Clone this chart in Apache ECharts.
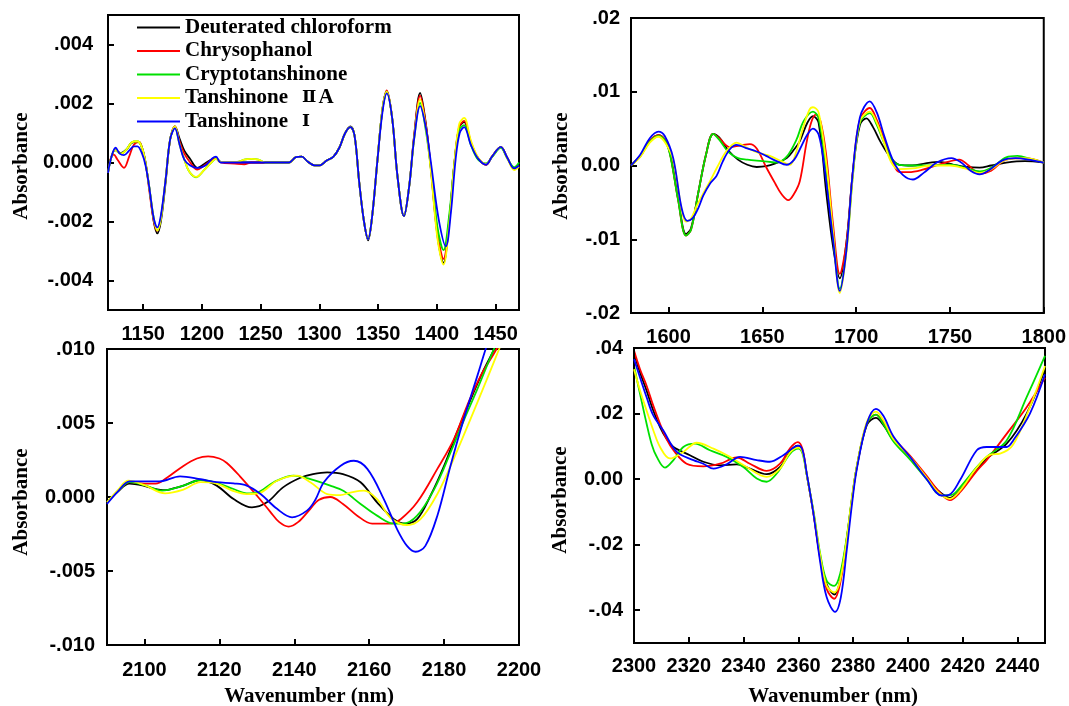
<!DOCTYPE html>
<html>
<head>
<meta charset="utf-8">
<script src="https://cdn.jsdelivr.net/npm/echarts@6/dist/echarts.min.js"></script>
<style>
  html, body { margin: 0; padding: 0; background: #ffffff; }
  #chart { width: 1069px; height: 706px; }
</style>
</head>
<body>
<div id="chart"></div>
<script>
// Sample names and line colours (legend order)
const seriesNames = ['Deuterated chloroform', 'Chrysophanol', 'Cryptotanshinone', 'Tanshinone \u2161A', 'Tanshinone \u2160'];
const seriesColors = ['#000000', '#ff0000', '#00e000', '#ffff00', '#0000ff'];

// ---- Panel 1: 1120-1470 nm, [wavenumber, absorbance] ----
const p1Deuterated = [[1120,-0.00035],[1123,0.0002],[1126,0.00042],[1131,0.00032],[1136,0.00045],[1140,0.00066],[1145,0.0007],[1148,0.0006],[1151,0.0002],[1155,-0.0008],[1159,-0.002],[1162,-0.0024],[1165,-0.002],[1169,-0.0007],[1173,0.0008],[1177,0.00122],[1181,0.0008],[1185,0.0004],[1190,0.00012],[1196,-0.00018],[1202,-0.00005],[1208,0.0001],[1212,0.00015],[1216,0.00002],[1230,0],[1245,0],[1260,0],[1274,0],[1280,0.00018],[1285,0.0002],[1290,0.00003],[1296,-0.0001],[1300,-0.0001],[1306,0.00006],[1312,0.0002],[1317,0.0005],[1322,0.001],[1326.5,0.00122],[1330,0.0009],[1334,-0.0007],[1338,-0.002],[1341.5,-0.00264],[1345,-0.0018],[1349.5,0.0001],[1353.7,0.0018],[1357.4,0.00242],[1362,0.0015],[1366.5,-0.00046],[1372,-0.00182],[1376.5,-0.0008],[1380.7,0.0009],[1385.8,0.00236],[1390.6,0.00134],[1395,-0.00024],[1400.6,-0.0025],[1405.7,-0.0034],[1410.5,-0.002],[1414.8,-0.0001],[1419,0.0012],[1423.3,0.00137],[1429,0.00067],[1435,0.00016],[1442,-0.00007],[1447,0.0002],[1454.5,0.00053],[1460,0.00016],[1466,-0.0002],[1470,-0.0001]];
const p1Chrysophanol = [[1120,-0.00035],[1122,0.0001],[1125,0.00027],[1128,0.0001],[1133.6,-0.00018],[1138,0.0002],[1142,0.0006],[1146.5,0.0007],[1149,0.0005],[1152,0],[1155,-0.0009],[1159,-0.002],[1162,-0.00232],[1165,-0.0019],[1169,-0.0006],[1173,0.0008],[1177,0.00122],[1181,0.0007],[1185,0.0003],[1190,0],[1196,-0.00024],[1202,-0.0001],[1208,0.00008],[1212,0.00012],[1216,0],[1228,-0.00004],[1236,-0.00006],[1242,0],[1260,0],[1274,0],[1280,0.00018],[1285,0.0002],[1290,0.00003],[1296,-0.0001],[1300,-0.0001],[1306,0.00006],[1312,0.0002],[1317,0.0005],[1322,0.001],[1326.5,0.0012],[1330,0.0009],[1334,-0.0007],[1338,-0.002],[1341.5,-0.0026],[1345,-0.0018],[1349.5,0.0001],[1353.7,0.0018],[1357.4,0.00244],[1362,0.0015],[1366.5,-0.00046],[1372,-0.00182],[1376.5,-0.0008],[1380.7,0.0009],[1385.8,0.00227],[1390.6,0.0013],[1395,-0.0002],[1400.6,-0.0024],[1405.7,-0.00327],[1410.5,-0.002],[1414.8,-0.0001],[1419,0.0012],[1423.3,0.00141],[1429,0.0007],[1435,0.00016],[1442,-0.00008],[1447,0.0002],[1454.5,0.00053],[1460,0.00016],[1466,-0.0002],[1470,-0.0001]];
const p1Cryptotanshinone = [[1120,-0.00035],[1123,0.0002],[1126,0.00042],[1131,0.0003],[1136,0.00045],[1140,0.00068],[1145,0.00072],[1148,0.0006],[1151,0.0002],[1155,-0.0008],[1159,-0.0019],[1162,-0.0023],[1165,-0.0019],[1169,-0.0006],[1173,0.0008],[1177,0.0012],[1181,0.0006],[1185,0.0001],[1189,-0.0003],[1195,-0.0005],[1202,-0.00025],[1208,0],[1212,0.00012],[1216,0.00002],[1230,0.00002],[1236,0.0001],[1242,0.00012],[1248,0.0001],[1254,0],[1274,0],[1280,0.00018],[1285,0.0002],[1290,0.00003],[1296,-0.0001],[1300,-0.0001],[1306,0.00006],[1312,0.0002],[1317,0.0005],[1322,0.001],[1326.5,0.0012],[1330,0.0009],[1334,-0.0007],[1338,-0.002],[1341.5,-0.0026],[1345,-0.0018],[1349.5,0.0001],[1353.7,0.0018],[1357.4,0.0024],[1362,0.0015],[1366.5,-0.00046],[1372,-0.00182],[1376.5,-0.0008],[1380.7,0.0008],[1385.8,0.00202],[1390.6,0.0011],[1395,-0.0002],[1400.6,-0.0022],[1405.7,-0.00297],[1410.5,-0.0018],[1414.8,-0.0001],[1419,0.0011],[1423.3,0.00127],[1429,0.0006],[1435,0.0001],[1442,-0.00003],[1447,0.00018],[1454.5,0.0005],[1460,0.00014],[1466,-0.00016],[1470,0]];
const p1TanshinoneIIA = [[1120,-0.00035],[1123,0.0002],[1126,0.00042],[1131,0.0003],[1136,0.00045],[1140,0.00068],[1145,0.00072],[1148,0.0006],[1151,0.0002],[1155,-0.0008],[1159,-0.0019],[1162,-0.0023],[1165,-0.0019],[1169,-0.0006],[1173,0.0008],[1177,0.00122],[1181,0.0006],[1185,0.0001],[1189,-0.0003],[1195,-0.00049],[1202,-0.00025],[1208,0],[1212,0.00012],[1216,0.00002],[1230,0.00002],[1236,0.0001],[1242,0.00012],[1248,0.0001],[1254,0],[1274,0],[1280,0.00018],[1285,0.0002],[1290,0.00003],[1296,-0.0001],[1300,-0.0001],[1306,0.00006],[1312,0.0002],[1317,0.0005],[1322,0.001],[1326.5,0.0012],[1330,0.0009],[1334,-0.0007],[1338,-0.002],[1341.5,-0.0026],[1345,-0.0018],[1349.5,0.0001],[1353.7,0.0018],[1357.4,0.0024],[1362,0.0015],[1366.5,-0.00046],[1372,-0.00182],[1376.5,-0.0008],[1380.7,0.0008],[1385.8,0.00214],[1390.6,0.0012],[1395,-0.0003],[1400.6,-0.0026],[1405.7,-0.00346],[1410.5,-0.0021],[1414.8,-0.0001],[1419,0.0013],[1423.3,0.00151],[1429,0.00075],[1435,0.00018],[1442,-0.00005],[1447,0.0002],[1454.5,0.00053],[1460,0.00014],[1466,-0.00026],[1470,-0.00015]];
const p1TanshinoneI = [[1120,-0.00035],[1123,0.0002],[1126.5,0.0005],[1130,0.0003],[1133.6,0.00025],[1138,0.0004],[1142,0.00055],[1145,0.00055],[1149,0.0003],[1152,-0.0001],[1155,-0.0008],[1159,-0.0019],[1162,-0.0022],[1165,-0.0018],[1169,-0.0006],[1173,0.0008],[1177,0.00116],[1181,0.0006],[1185,0.0001],[1190,-0.0001],[1196,-0.00018],[1203,-0.0001],[1209,0.00015],[1212,0.0002],[1216,0],[1274,0],[1280,0.00018],[1285,0.0002],[1290,0.00003],[1296,-0.0001],[1300,-0.0001],[1306,0.00006],[1312,0.0002],[1317,0.0005],[1322,0.001],[1326.5,0.0012],[1330,0.0009],[1334,-0.0007],[1338,-0.002],[1341.5,-0.0026],[1345,-0.0018],[1349.5,0.0001],[1353.7,0.0017],[1357.4,0.00234],[1362,0.0015],[1366.5,-0.00046],[1372,-0.00182],[1376.5,-0.0008],[1380.7,0.0008],[1385.8,0.00191],[1390.6,0.0012],[1395,0],[1401.5,-0.0019],[1407.7,-0.00284],[1412,-0.0017],[1416,0.0001],[1419.5,0.001],[1423.3,0.0012],[1429,0.0006],[1435,0.00014],[1442,-0.00007],[1447,0.0002],[1454.5,0.00053],[1460,0.00016],[1466,-0.0002],[1470,-0.0001]];

// ---- Panel 2: 1580-1800 nm ----
const p2Deuterated = [[1580,0],[1585,0.0013],[1590,0.0033],[1594.5,0.0041],[1598,0.0035],[1600.8,0.0017],[1605.2,-0.0046],[1609.3,-0.0093],[1612,-0.0085],[1616,-0.0035],[1620,0.0015],[1623.8,0.0043],[1627,0.0038],[1632,0.002],[1637,0.0008],[1642,0.0001],[1647,-0.0002],[1652,-0.0001],[1657,0.0003],[1663,0.001],[1667,0.0022],[1670,0.0033],[1674,0.0058],[1677,0.0067],[1680,0.0058],[1684,-0.0035],[1687.7,-0.011],[1691.3,-0.0153],[1694.8,-0.0105],[1698.4,-0.0005],[1702,0.0055],[1705.5,0.0064],[1709,0.0052],[1713,0.0032],[1718,0.0012],[1723,0.0001],[1730,0],[1737,0.0003],[1744.5,0.0005],[1752,0.0001],[1759,-0.0002],[1765.8,-0.0003],[1772,0],[1780,0.0004],[1790,0.0006],[1800,0.0004]];
const p2Chrysophanol = [[1580,0],[1585,0.0013],[1590,0.0033],[1594.5,0.0041],[1598,0.0035],[1600.8,0.0016],[1605.2,-0.0048],[1609.3,-0.0095],[1612,-0.0087],[1616,-0.0035],[1620,0.0015],[1623.8,0.0043],[1627,0.0037],[1632.7,0.0025],[1638,0.0027],[1643.4,0.0029],[1647,0.0023],[1652,-0.0002],[1657,-0.0025],[1660,-0.0038],[1663.8,-0.0047],[1667,-0.0038],[1670,-0.0021],[1673.5,0.003],[1676,0.0058],[1678.5,0.0069],[1681,0.006],[1684,0.0015],[1687.7,-0.008],[1691.3,-0.0147],[1694.8,-0.0105],[1698.4,-0.0005],[1702,0.0062],[1707.3,0.0078],[1711,0.0062],[1715,0.0035],[1719,0.0008],[1723,-0.0009],[1728,-0.0009],[1735,-0.0006],[1745,0.0002],[1755,0.0008],[1760,0],[1766,-0.0011],[1772,-0.0007],[1780,0.0008],[1790,0.001],[1800,0.0004]];
const p2Cryptotanshinone = [[1580,0],[1585,0.0013],[1590,0.0032],[1594.5,0.004],[1598,0.0034],[1600.8,0.0015],[1605.2,-0.0048],[1609.3,-0.0095],[1612,-0.0087],[1616,-0.0035],[1620,0.0015],[1623.8,0.0043],[1627,0.0035],[1632,0.0018],[1637,0.001],[1642,0.0008],[1650,0.0006],[1657.6,0.0004],[1663,0.0012],[1668.2,0.0035],[1672,0.006],[1677,0.0073],[1680,0.0064],[1684,-0.0005],[1687.7,-0.0095],[1691.3,-0.0167],[1694.8,-0.0115],[1698.4,-0.001],[1702,0.0058],[1707.3,0.0071],[1711,0.0055],[1715,0.003],[1719,0.0008],[1723,0.0001],[1730,0],[1740,0],[1750,0.0001],[1758,-0.0003],[1766,-0.0008],[1772,-0.0003],[1780,0.0011],[1786,0.0013],[1793,0.0009],[1800,0.0004]];
const p2TanshinoneIIA = [[1580,0],[1585,0.0012],[1590,0.0031],[1594.5,0.0039],[1598,0.0032],[1602.5,0.0008],[1607,-0.006],[1609.3,-0.0076],[1612,-0.0072],[1615,-0.0055],[1618.5,-0.0038],[1622,-0.0022],[1626,-0.0002],[1631,0.002],[1636.3,0.0031],[1641,0.0025],[1647,0.0018],[1654,0.0013],[1660,0.0006],[1664.7,0.0001],[1668,0.0018],[1671,0.0045],[1675,0.0075],[1677,0.0079],[1680,0.0072],[1684,0.0005],[1687.7,-0.009],[1691.3,-0.0173],[1694.8,-0.0118],[1698.4,-0.001],[1702,0.006],[1707.3,0.0073],[1711,0.0058],[1715,0.003],[1719,0.0003],[1723,-0.0005],[1730,-0.0004],[1740,0],[1750,0],[1758,-0.0004],[1766,-0.001],[1772,-0.0005],[1780,0.0008],[1790,0.001],[1800,0.0004]];
const p2TanshinoneI = [[1580,0],[1585,0.0015],[1590,0.0037],[1594.6,0.0046],[1598,0.004],[1602.5,0.001],[1607,-0.0058],[1610,-0.0075],[1613,-0.0071],[1616,-0.0057],[1618.5,-0.0041],[1622,-0.0025],[1625.6,-0.0014],[1629,0.0006],[1632.7,0.0022],[1636.3,0.0028],[1641,0.0024],[1647,0.0019],[1652,0.0013],[1657.6,0.0006],[1663,0.0001],[1667,0.0008],[1670,0.0022],[1674,0.0042],[1677,0.005],[1680,0.0042],[1683,0],[1687.7,-0.01],[1691.3,-0.017],[1694.8,-0.0115],[1698,-0.0015],[1702,0.0065],[1707.3,0.0087],[1711,0.0072],[1715,0.004],[1720,0.0005],[1725,-0.0013],[1730.3,-0.0019],[1736,-0.001],[1743,0.0004],[1750.8,0.001],[1756,0.0004],[1761,-0.0007],[1765.8,-0.0012],[1771,-0.0006],[1778,0.0007],[1785,0.001],[1792,0.0008],[1800,0.0004]];

// ---- Panel 3: 2090-2200 nm ----
const p3Deuterated = [[2090,-0.00036],[2093,0.0004],[2096,0.0009],[2099.7,0.00077],[2102,0.0006],[2105.5,0.00047],[2108,0.0006],[2110.4,0.00077],[2115,0.00115],[2119.3,0.00077],[2123.8,-0.00014],[2128.7,-0.0007],[2132.7,-0.00036],[2137,0.00065],[2141.6,0.0013],[2145,0.00155],[2148.8,0.00167],[2153,0.00155],[2157.7,0.001],[2162.1,-0.00036],[2166.6,-0.0015],[2169.7,-0.0018],[2172.8,-0.0015],[2176.4,0.0001],[2180,0.0021],[2183.5,0.0044],[2187.1,0.0066],[2190.6,0.0086],[2193.8,0.0102],[2197,0.012]];
const p3Chrysophanol = [[2090,-0.00036],[2093,0.0004],[2096,0.001],[2100,0.0009],[2103,0.0009],[2106,0.0013],[2110.4,0.0021],[2114,0.0026],[2117,0.00275],[2120,0.0026],[2122,0.0023],[2125.5,0.0014],[2130,0.0001],[2133.6,-0.001],[2136,-0.0017],[2138.5,-0.002],[2141,-0.0017],[2144.3,-0.0008],[2146.5,-0.0002],[2149.6,0],[2153,-0.00047],[2156.8,-0.00126],[2160.8,-0.0018],[2165.7,-0.0018],[2168.4,-0.0015],[2172.8,-0.00036],[2178.2,0.0019],[2182.6,0.0039],[2186.2,0.0062],[2189.8,0.0082],[2194,0.01],[2197,0.0115]];
const p3Cryptotanshinone = [[2090,-0.00036],[2093,0.0004],[2096,0.001],[2100,0.0008],[2104.6,0.00043],[2110.4,0.00077],[2115,0.00115],[2119.3,0.00095],[2123.8,0.00054],[2127.3,0.00025],[2130,0.0003],[2134.5,0.001],[2139.8,0.00144],[2144.3,0.0012],[2149.6,0.00077],[2153.2,0.0004],[2157.7,-0.00047],[2162.1,-0.00126],[2166.6,-0.0018],[2169,-0.0018],[2172.8,-0.00126],[2177.3,0.0005],[2181.7,0.003],[2185.3,0.0052],[2188.9,0.0073],[2193.3,0.01],[2196,0.0115]];
const p3TanshinoneIIA = [[2090,-0.00036],[2093,0.0005],[2095.7,0.0011],[2100,0.0008],[2105.5,0.00025],[2110.4,0.0005],[2115,0.001],[2119.3,0.0009],[2123.8,0.0004],[2127.3,0.0002],[2131,0.0003],[2135.4,0.0011],[2140.7,0.00144],[2144.3,0.001],[2148.8,0.0002],[2152.3,0.00013],[2155,0.0003],[2158.6,0.00043],[2162.1,-0.00014],[2165.7,-0.0014],[2170.1,-0.0019],[2173.7,-0.0015],[2178.2,0.0002],[2182.6,0.0026],[2187.1,0.0053],[2191.5,0.008],[2194.7,0.01],[2198,0.012]];
const p3TanshinoneI = [[2090,-0.00047],[2093,0.0004],[2096,0.00106],[2100,0.00106],[2104,0.00106],[2109.5,0.0014],[2115,0.0012],[2119.3,0.001],[2123.8,0.00092],[2127.3,0.00077],[2131,0.0002],[2135.4,-0.0008],[2139.4,-0.00137],[2143.4,-0.00092],[2145.6,-0.0002],[2147.9,0.001],[2152.3,0.0021],[2155.9,0.00245],[2159.5,0.0019],[2163.9,-0.00014],[2167.5,-0.0022],[2170.1,-0.0033],[2172.4,-0.0037],[2175,-0.0033],[2178.2,-0.00126],[2181.7,0.0021],[2185.3,0.0053],[2188.9,0.0082],[2191.1,0.01],[2194,0.0122]];

// ---- Panel 4: 2300-2450 nm ----
const p4Deuterated = [[2300,0.0385],[2302.2,0.0325],[2304.6,0.027],[2307,0.021],[2309.5,0.0159],[2311.9,0.0123],[2314.4,0.0098],[2320.4,0.0073],[2325.3,0.0053],[2331.4,0.0042],[2337.5,0.0045],[2342.3,0.0032],[2348.4,0.0015],[2353.3,0.0037],[2357,0.0085],[2359.8,0.0102],[2361.5,0.0085],[2363,0.0017],[2365.5,-0.0104],[2367.9,-0.0235],[2370.3,-0.032],[2373.1,-0.0352],[2375.2,-0.031],[2377.6,-0.0185],[2379.5,-0.0064],[2381.3,0.0037],[2385,0.0165],[2388.3,0.0187],[2391,0.0165],[2394.7,0.0118],[2400.7,0.0066],[2406.8,0.0005],[2411,-0.0035],[2415.3,-0.0057],[2419,-0.0033],[2425.1,0.0028],[2428.7,0.0063],[2436,0.0108],[2443.3,0.02],[2450,0.0335]];
const p4Chrysophanol = [[2300,0.0392],[2302.2,0.0335],[2304.6,0.0285],[2307,0.0225],[2309.5,0.0169],[2311.9,0.0122],[2314.4,0.0088],[2319.2,0.0047],[2325.3,0.0039],[2331.4,0.0047],[2337.5,0.0066],[2342.3,0.0047],[2348.4,0.0025],[2353.3,0.0047],[2357,0.0095],[2359.8,0.0113],[2361.5,0.0092],[2363,0.0017],[2365.5,-0.0105],[2367.9,-0.024],[2370.3,-0.0335],[2373.1,-0.0365],[2375.2,-0.032],[2377.6,-0.019],[2379.5,-0.0065],[2381.3,0.0035],[2385,0.017],[2388.3,0.0197],[2391,0.0175],[2394.7,0.0125],[2400.7,0.0072],[2406.8,0.001],[2411,-0.0035],[2415.3,-0.0064],[2419,-0.004],[2425.1,0.0025],[2428.7,0.0058],[2436,0.0138],[2443.3,0.0219],[2450,0.031]];
const p4Cryptotanshinone = [[2300,0.0345],[2302.2,0.026],[2304.6,0.0169],[2306.5,0.0105],[2308.3,0.0068],[2311.3,0.0035],[2314.4,0.0058],[2318,0.0098],[2322.3,0.0108],[2327.7,0.0088],[2333.8,0.0068],[2339.9,0.0037],[2344.8,0.0002],[2348.4,-0.0008],[2352.1,0.0017],[2357,0.0078],[2360,0.0093],[2361.5,0.0078],[2363,0.0015],[2365.5,-0.0098],[2367.9,-0.0225],[2370.3,-0.031],[2373.1,-0.0326],[2375.2,-0.029],[2377.6,-0.018],[2379.5,-0.006],[2381.3,0.0037],[2385,0.017],[2388.3,0.0197],[2391,0.0168],[2394.7,0.0115],[2400.7,0.006],[2406.8,0],[2412.3,-0.005],[2416,-0.0048],[2419,-0.0025],[2425.1,0.0037],[2428.7,0.0068],[2436,0.0118],[2443.3,0.025],[2450,0.0376]];
const p4TanshinoneIIA = [[2300,0.0335],[2302.2,0.027],[2304.6,0.0209],[2307,0.015],[2309.5,0.0098],[2313.1,0.0063],[2318,0.0083],[2322.9,0.0111],[2329,0.0093],[2335,0.0068],[2341.1,0.0037],[2348.4,0.0007],[2353.3,0.0032],[2357,0.0082],[2360,0.0096],[2361.5,0.0082],[2363,0.0017],[2365.5,-0.01],[2367.9,-0.023],[2370.3,-0.0325],[2373.1,-0.0346],[2375.2,-0.031],[2377.6,-0.0185],[2379.5,-0.006],[2381.3,0.0038],[2385,0.0175],[2388.3,0.0206],[2391,0.018],[2394.7,0.0122],[2400.7,0.0068],[2406.8,0.0005],[2411,-0.004],[2415.3,-0.006],[2419,-0.0035],[2425.1,0.0035],[2430,0.0075],[2433.6,0.0078],[2438.2,0.0103],[2444.5,0.022],[2450,0.0345]];
const p4TanshinoneI = [[2300,0.0366],[2302.2,0.031],[2304.6,0.025],[2307,0.0195],[2310.7,0.0148],[2315.6,0.0083],[2321.7,0.0058],[2325.3,0.0047],[2329,0.0032],[2333.8,0.0045],[2338.7,0.0068],[2344.8,0.0058],[2349.6,0.0053],[2354.5,0.0073],[2358,0.0095],[2360,0.0102],[2361.5,0.0088],[2363,0.002],[2365.5,-0.0105],[2367.9,-0.025],[2370.3,-0.036],[2373.4,-0.0405],[2375.5,-0.036],[2377.6,-0.022],[2379.5,-0.008],[2381.3,0.003],[2385,0.017],[2388.3,0.0214],[2391,0.0193],[2394.7,0.013],[2400.7,0.0068],[2406.8,0],[2412.3,-0.005],[2415,-0.0048],[2419,-0.0003],[2425.1,0.0088],[2428.7,0.0098],[2436,0.0098],[2438.4,0.0118],[2444.5,0.02],[2450,0.032]];

// Axis ranges and tick labels
const p1XTicks = [1150, 1200, 1250, 1300, 1350, 1400, 1450];
const p1YTicks = [-0.004, -0.002, 0, 0.002, 0.004];
const p2XTicks = [1600, 1650, 1700, 1750, 1800];
const p2YTicks = [-0.02, -0.01, 0, 0.01, 0.02];
const p3XTicks = [2100, 2120, 2140, 2160, 2180, 2200];
const p3YTicks = [-0.01, -0.005, 0, 0.005, 0.01];
const p4XTicks = [2300, 2320, 2340, 2360, 2380, 2400, 2420, 2440];
const p4YTicks = [-0.04, -0.02, 0, 0.02, 0.04];

const panels = [
  { data: [p1Deuterated, p1Chrysophanol, p1Cryptotanshinone, p1TanshinoneIIA, p1TanshinoneI],
    grid: { left: 108, top: 15, width: 411, height: 295 },
    x: [1120, 1470], y: [-0.005, 0.005], xTicks: p1XTicks, yTicks: p1YTicks, dec: 3, yMargin: 15, xMargin: 14 },
  { data: [p2Deuterated, p2Chrysophanol, p2Cryptotanshinone, p2TanshinoneIIA, p2TanshinoneI],
    grid: { left: 631, top: 18, width: 413, height: 295 },
    x: [1580, 1800], y: [-0.02, 0.02], xTicks: p2XTicks, yTicks: p2YTicks, dec: 2, yMargin: 11, xMargin: 14 },
  { data: [p3Deuterated, p3Chrysophanol, p3Cryptotanshinone, p3TanshinoneIIA, p3TanshinoneI],
    grid: { left: 107, top: 349, width: 412, height: 296 },
    x: [2090, 2200], y: [-0.01, 0.01], xTicks: p3XTicks, yTicks: p3YTicks, dec: 3, yMargin: 12, xMargin: 15 },
  { data: [p4Deuterated, p4Chrysophanol, p4Cryptotanshinone, p4TanshinoneIIA, p4TanshinoneI],
    grid: { left: 634, top: 348, width: 411, height: 295 },
    x: [2300, 2450], y: [-0.05, 0.04], xTicks: p4XTicks, yTicks: p4YTicks, dec: 2, yMargin: 11, xMargin: 13 }
];

const tickFont = { fontFamily: 'Liberation Sans', fontWeight: 'bold', fontSize: 20, color: '#000' };
const titleFont = 'bold 21px "Liberation Serif"';

function absLabel(dec) {
  return function (v) {
    if (Math.abs(v) < 1e-12) return (0).toFixed(dec);
    const s = Math.abs(v).toFixed(dec).replace(/^0/, '');
    return (v < 0 ? '-' : '') + s;
  };
}

const axisLineStyle = { show: true, onZero: false, lineStyle: { color: '#000', width: 2 } };
const tickLineStyle = { color: '#000', width: 2 };

const grids = [], xAxes = [], yAxes = [], series = [];
panels.forEach((p, i) => {
  grids.push(Object.assign({ show: true, borderColor: '#000', borderWidth: 2, backgroundColor: 'transparent' }, p.grid));
  xAxes.push({
    type: 'value', gridIndex: i, min: p.x[0], max: p.x[1], position: 'bottom', z: 5,
    axisLine: axisLineStyle, splitLine: { show: false },
    axisTick: { show: true, inside: true, length: 6, customValues: p.xTicks, lineStyle: tickLineStyle },
    axisLabel: { show: true, customValues: p.xTicks, margin: p.xMargin, ...tickFont, formatter: v => String(Math.round(v)) }
  });
  yAxes.push({
    type: 'value', gridIndex: i, min: p.y[0], max: p.y[1], position: 'left', z: 5,
    axisLine: axisLineStyle, splitLine: { show: false },
    axisTick: { show: true, inside: true, length: 6, customValues: p.yTicks, lineStyle: tickLineStyle },
    axisLabel: { show: true, customValues: p.yTicks, margin: p.yMargin, ...tickFont, formatter: absLabel(p.dec) }
  });
  p.data.forEach((d, k) => {
    series.push({
      type: 'line', name: seriesNames[k], xAxisIndex: i, yAxisIndex: i,
      data: d, showSymbol: false, symbol: 'none', smooth: 0.35, clip: true,
      lineStyle: { color: seriesColors[k], width: 1.8 }, itemStyle: { color: seriesColors[k] },
      animation: false, z: 2 + k
    });
  });
});

const titles = [
  { text: 'Absorbance', x: 22, y: 166, rot: true },
  { text: 'Absorbance', x: 562, y: 166, rot: true },
  { text: 'Absorbance', x: 22, y: 502, rot: true },
  { text: 'Absorbance', x: 561, y: 500, rot: true },
  { text: 'Wavenumber (nm)', x: 309, y: 697, rot: false },
  { text: 'Wavenumber (nm)', x: 833, y: 697, rot: false }
];

const chart = echarts.init(document.getElementById('chart'), null, { renderer: 'canvas' });
chart.setOption({
  animation: false,
  backgroundColor: '#ffffff',
  grid: grids,
  xAxis: xAxes,
  yAxis: yAxes,
  series: series,
  legend: {
    data: seriesNames, orient: 'vertical', left: 137, top: 17, padding: 0,
    itemWidth: 43, itemHeight: 2, itemGap: 2.5, icon: 'rect', selectedMode: false,
    formatter: name => name.replace(/ ([\u2160\u2161])/, '{r|$1}'),
    textStyle: {
      fontFamily: 'Liberation Serif', fontWeight: 'bold', fontSize: 21, lineHeight: 20, color: '#000',
      rich: { r: { fontFamily: 'DejaVu Serif', fontWeight: 'bold', fontSize: 17, lineHeight: 20, color: '#000', padding: [0, 2, 0, 14] } }
    }
  },
  graphic: titles.map(t => ({
    type: 'text', x: t.x, y: t.y, rotation: t.rot ? Math.PI / 2 : 0, z: 10,
    style: { text: t.text, font: titleFont, fill: '#000', align: 'center', verticalAlign: 'middle' }
  }))
});
</script>
</body>
</html>
